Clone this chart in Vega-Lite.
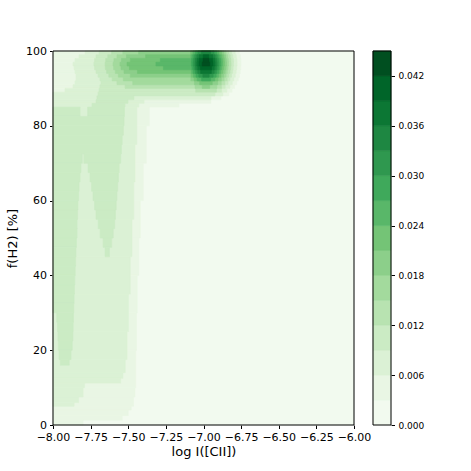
{
"$schema": "https://vega.github.io/schema/vega-lite/v6.json",
"background": "white",
"padding": {"left": 6, "top": 45, "right": 5, "bottom": 5},
"bounds": "flush",
"spacing": 19,
"config": {
  "font": "DejaVu Sans",
  "view": {"stroke": null},
  "axis": {"labelFont": "DejaVu Sans", "titleFont": "DejaVu Sans", "labelColor": "black", "titleColor": "black", "tickColor": "black", "domain": false, "grid": false, "labelFontSize": 11, "titleFontSize": 13, "titleFontWeight": "normal", "tickSize": 3.5, "labelPadding": 3, "zindex": 1}
},
"hconcat": [
{
  "width": 301, "height": 374,
  "layer": [
  {
    "data": {"values": [
{"x":-8,"x2":-6,"y":0,"y2":100,"l":0},
{"x":-8,"x2":-6.761,"y":99,"y2":100,"l":1},
{"x":-8,"x2":-6.755,"y":98,"y2":99,"l":1},
{"x":-8,"x2":-6.752,"y":97,"y2":98,"l":1},
{"x":-8,"x2":-6.751,"y":96,"y2":97,"l":1},
{"x":-8,"x2":-6.753,"y":95,"y2":96,"l":1},
{"x":-8,"x2":-6.756,"y":94,"y2":95,"l":1},
{"x":-8,"x2":-6.761,"y":93,"y2":94,"l":1},
{"x":-8,"x2":-6.769,"y":92,"y2":93,"l":1},
{"x":-8,"x2":-6.780,"y":91,"y2":92,"l":1},
{"x":-8,"x2":-6.793,"y":90,"y2":91,"l":1},
{"x":-8,"x2":-6.810,"y":89,"y2":90,"l":1},
{"x":-8,"x2":-6.831,"y":88,"y2":89,"l":1},
{"x":-8,"x2":-6.884,"y":87,"y2":88,"l":1},
{"x":-8,"x2":-6.950,"y":86,"y2":87,"l":1},
{"x":-8,"x2":-7.163,"y":85,"y2":86,"l":1},
{"x":-8,"x2":-7.36,"y":80,"y2":85,"l":1},
{"x":-8,"x2":-7.38,"y":70,"y2":80,"l":1},
{"x":-8,"x2":-7.40,"y":60,"y2":70,"l":1},
{"x":-8,"x2":-7.42,"y":50,"y2":60,"l":1},
{"x":-8,"x2":-7.43,"y":40,"y2":50,"l":1},
{"x":-8,"x2":-7.44,"y":30,"y2":40,"l":1},
{"x":-8,"x2":-7.445,"y":20,"y2":30,"l":1},
{"x":-8,"x2":-7.45,"y":10,"y2":20,"l":1},
{"x":-8,"x2":-7.455,"y":7.5,"y2":10,"l":1},
{"x":-8,"x2":-7.465,"y":5,"y2":7.5,"l":1},
{"x":-8,"x2":-7.48,"y":4,"y2":5,"l":1},
{"x":-8,"x2":-7.50,"y":2.5,"y2":4,"l":1},
{"x":-8,"x2":-7.54,"y":1.3,"y2":2.5,"l":1},
{"x":-8,"x2":-7.80,"y":0,"y2":1.3,"l":1},
{"x":-7.787,"x2":-6.789,"y":99,"y2":100,"l":2},
{"x":-7.827,"x2":-6.782,"y":98,"y2":99,"l":2},
{"x":-7.854,"x2":-6.778,"y":97,"y2":98,"l":2},
{"x":-7.867,"x2":-6.777,"y":96,"y2":97,"l":2},
{"x":-7.860,"x2":-6.779,"y":95,"y2":96,"l":2},
{"x":-7.854,"x2":-6.783,"y":94,"y2":95,"l":2},
{"x":-7.847,"x2":-6.789,"y":93,"y2":94,"l":2},
{"x":-7.847,"x2":-6.798,"y":92,"y2":93,"l":2},
{"x":-7.854,"x2":-6.809,"y":91,"y2":92,"l":2},
{"x":-7.867,"x2":-6.825,"y":90,"y2":91,"l":2},
{"x":-7.920,"x2":-6.845,"y":89,"y2":90,"l":2},
{"x":-8,"x2":-6.871,"y":88,"y2":89,"l":2},
{"x":-8,"x2":-6.950,"y":87,"y2":88,"l":2},
{"x":-8,"x2":-7.395,"y":86,"y2":87,"l":2},
{"x":-8,"x2":-7.429,"y":85,"y2":86,"l":2},
{"x":-8,"x2":-7.443,"y":75,"y2":85,"l":2},
{"x":-8,"x2":-7.455,"y":65,"y2":75,"l":2},
{"x":-8,"x2":-7.463,"y":55,"y2":65,"l":2},
{"x":-8,"x2":-7.475,"y":45,"y2":55,"l":2},
{"x":-8,"x2":-7.487,"y":35,"y2":45,"l":2},
{"x":-8,"x2":-7.498,"y":25,"y2":35,"l":2},
{"x":-8,"x2":-7.508,"y":17.5,"y2":25,"l":2},
{"x":-8,"x2":-7.52,"y":14,"y2":17.5,"l":2},
{"x":-8,"x2":-7.535,"y":12.5,"y2":14,"l":2},
{"x":-8,"x2":-7.55,"y":11.2,"y2":12.5,"l":2},
{"x":-8,"x2":-7.79,"y":10,"y2":11.2,"l":2},
{"x":-8,"x2":-7.80,"y":7.5,"y2":10,"l":2},
{"x":-8,"x2":-7.83,"y":6,"y2":7.5,"l":2},
{"x":-8,"x2":-7.86,"y":5,"y2":6,"l":2},
{"x":-7.694,"x2":-6.813,"y":99,"y2":100,"l":3},
{"x":-7.714,"x2":-6.806,"y":98,"y2":99,"l":3},
{"x":-7.724,"x2":-6.801,"y":97,"y2":98,"l":3},
{"x":-7.728,"x2":-6.801,"y":96,"y2":97,"l":3},
{"x":-7.724,"x2":-6.803,"y":95,"y2":96,"l":3},
{"x":-7.714,"x2":-6.807,"y":94,"y2":95,"l":3},
{"x":-7.701,"x2":-6.814,"y":93,"y2":94,"l":3},
{"x":-7.688,"x2":-6.824,"y":92,"y2":93,"l":3},
{"x":-7.681,"x2":-6.837,"y":91,"y2":92,"l":3},
{"x":-7.688,"x2":-6.856,"y":90,"y2":91,"l":3},
{"x":-7.694,"x2":-6.880,"y":89,"y2":90,"l":3},
{"x":-7.701,"x2":-6.924,"y":88,"y2":89,"l":3},
{"x":-7.708,"x2":-7.462,"y":87,"y2":88,"l":3},
{"x":-7.714,"x2":-7.502,"y":86,"y2":87,"l":3},
{"x":-7.741,"x2":-7.522,"y":85,"y2":86,"l":3},
{"x":-8,"x2":-7.82,"y":82.5,"y2":85,"l":3},
{"x":-7.77,"x2":-7.525,"y":82.5,"y2":85,"l":3},
{"x":-8,"x2":-7.528,"y":80,"y2":82.5,"l":3},
{"x":-8,"x2":-7.532,"y":77.5,"y2":80,"l":3},
{"x":-8,"x2":-7.54,"y":75,"y2":77.5,"l":3},
{"x":-8,"x2":-7.545,"y":72.5,"y2":75,"l":3},
{"x":-8,"x2":-7.805,"y":70,"y2":72.5,"l":3},
{"x":-7.795,"x2":-7.55,"y":70,"y2":72.5,"l":3},
{"x":-8,"x2":-7.814,"y":67.5,"y2":70,"l":3},
{"x":-7.767,"x2":-7.56,"y":67.5,"y2":70,"l":3},
{"x":-8,"x2":-7.82,"y":65,"y2":67.5,"l":3},
{"x":-7.754,"x2":-7.565,"y":65,"y2":67.5,"l":3},
{"x":-8,"x2":-7.827,"y":62.5,"y2":65,"l":3},
{"x":-7.744,"x2":-7.57,"y":62.5,"y2":65,"l":3},
{"x":-8,"x2":-7.83,"y":60,"y2":62.5,"l":3},
{"x":-7.734,"x2":-7.575,"y":60,"y2":62.5,"l":3},
{"x":-8,"x2":-7.834,"y":57.5,"y2":60,"l":3},
{"x":-7.724,"x2":-7.58,"y":57.5,"y2":60,"l":3},
{"x":-8,"x2":-7.837,"y":55,"y2":57.5,"l":3},
{"x":-7.714,"x2":-7.585,"y":55,"y2":57.5,"l":3},
{"x":-8,"x2":-7.84,"y":52.5,"y2":55,"l":3},
{"x":-7.70,"x2":-7.59,"y":52.5,"y2":55,"l":3},
{"x":-8,"x2":-7.84,"y":50,"y2":52.5,"l":3},
{"x":-7.687,"x2":-7.60,"y":50,"y2":52.5,"l":3},
{"x":-8,"x2":-7.844,"y":47.5,"y2":50,"l":3},
{"x":-7.667,"x2":-7.61,"y":47.5,"y2":50,"l":3},
{"x":-8,"x2":-7.847,"y":45,"y2":47.5,"l":3},
{"x":-7.654,"x2":-7.625,"y":45,"y2":47.5,"l":3},
{"x":-8,"x2":-7.85,"y":42.5,"y2":45,"l":3},
{"x":-8,"x2":-7.852,"y":40,"y2":42.5,"l":3},
{"x":-8,"x2":-7.855,"y":37.5,"y2":40,"l":3},
{"x":-8,"x2":-7.857,"y":35,"y2":37.5,"l":3},
{"x":-8,"x2":-7.86,"y":32.5,"y2":35,"l":3},
{"x":-8,"x2":-7.862,"y":30,"y2":32.5,"l":3},
{"x":-7.975,"x2":-7.864,"y":27.5,"y2":30,"l":3},
{"x":-7.97,"x2":-7.866,"y":25,"y2":27.5,"l":3},
{"x":-7.967,"x2":-7.868,"y":22.5,"y2":25,"l":3},
{"x":-7.965,"x2":-7.872,"y":20,"y2":22.5,"l":3},
{"x":-7.96,"x2":-7.88,"y":17.5,"y2":20,"l":3},
{"x":-7.952,"x2":-7.892,"y":16,"y2":17.5,"l":3},
{"x":-7.611,"x2":-6.831,"y":99,"y2":100,"l":4},
{"x":-7.636,"x2":-6.823,"y":98,"y2":99,"l":4},
{"x":-7.650,"x2":-6.818,"y":97,"y2":98,"l":4},
{"x":-7.654,"x2":-6.817,"y":96,"y2":97,"l":4},
{"x":-7.652,"x2":-6.819,"y":95,"y2":96,"l":4},
{"x":-7.644,"x2":-6.824,"y":94,"y2":95,"l":4},
{"x":-7.629,"x2":-6.832,"y":93,"y2":94,"l":4},
{"x":-7.607,"x2":-6.843,"y":92,"y2":93,"l":4},
{"x":-7.575,"x2":-6.858,"y":91,"y2":92,"l":4},
{"x":-7.521,"x2":-6.881,"y":90,"y2":91,"l":4},
{"x":-7.052,"x2":-6.914,"y":89,"y2":90,"l":4},
{"x":-7.536,"x2":-6.850,"y":99,"y2":100,"l":5},
{"x":-7.575,"x2":-6.840,"y":98,"y2":99,"l":5},
{"x":-7.595,"x2":-6.835,"y":97,"y2":98,"l":5},
{"x":-7.601,"x2":-6.834,"y":96,"y2":97,"l":5},
{"x":-7.597,"x2":-6.837,"y":95,"y2":96,"l":5},
{"x":-7.586,"x2":-6.842,"y":94,"y2":95,"l":5},
{"x":-7.566,"x2":-6.850,"y":93,"y2":94,"l":5},
{"x":-7.533,"x2":-6.863,"y":92,"y2":93,"l":5},
{"x":-7.470,"x2":-6.882,"y":91,"y2":92,"l":5},
{"x":-7.056,"x2":-6.911,"y":90,"y2":91,"l":5},
{"x":-7.431,"x2":-6.865,"y":99,"y2":100,"l":6},
{"x":-7.512,"x2":-6.854,"y":98,"y2":99,"l":6},
{"x":-7.545,"x2":-6.849,"y":97,"y2":98,"l":6},
{"x":-7.555,"x2":-6.847,"y":96,"y2":97,"l":6},
{"x":-7.548,"x2":-6.850,"y":95,"y2":96,"l":6},
{"x":-7.528,"x2":-6.856,"y":94,"y2":95,"l":6},
{"x":-7.486,"x2":-6.866,"y":93,"y2":94,"l":6},
{"x":-7.084,"x2":-6.882,"y":92,"y2":93,"l":6},
{"x":-7.060,"x2":-6.906,"y":91,"y2":92,"l":6},
{"x":-7.008,"x2":-6.959,"y":90,"y2":91,"l":6},
{"x":-7.086,"x2":-6.880,"y":99,"y2":100,"l":7},
{"x":-7.385,"x2":-6.868,"y":98,"y2":99,"l":7},
{"x":-7.486,"x2":-6.862,"y":97,"y2":98,"l":7},
{"x":-7.508,"x2":-6.861,"y":96,"y2":97,"l":7},
{"x":-7.492,"x2":-6.864,"y":95,"y2":96,"l":7},
{"x":-7.439,"x2":-6.871,"y":94,"y2":95,"l":7},
{"x":-7.083,"x2":-6.884,"y":93,"y2":94,"l":7},
{"x":-7.062,"x2":-6.904,"y":92,"y2":93,"l":7},
{"x":-7.025,"x2":-6.942,"y":91,"y2":92,"l":7},
{"x":-7.070,"x2":-6.897,"y":99,"y2":100,"l":8},
{"x":-7.084,"x2":-6.882,"y":98,"y2":99,"l":8},
{"x":-7.287,"x2":-6.875,"y":97,"y2":98,"l":8},
{"x":-7.316,"x2":-6.874,"y":96,"y2":97,"l":8},
{"x":-7.266,"x2":-6.878,"y":95,"y2":96,"l":8},
{"x":-7.081,"x2":-6.886,"y":94,"y2":95,"l":8},
{"x":-7.067,"x2":-6.900,"y":93,"y2":94,"l":8},
{"x":-7.042,"x2":-6.925,"y":92,"y2":93,"l":8},
{"x":-7.054,"x2":-6.912,"y":99,"y2":100,"l":9},
{"x":-7.071,"x2":-6.896,"y":98,"y2":99,"l":9},
{"x":-7.080,"x2":-6.887,"y":97,"y2":98,"l":9},
{"x":-7.081,"x2":-6.886,"y":96,"y2":97,"l":9},
{"x":-7.077,"x2":-6.890,"y":95,"y2":96,"l":9},
{"x":-7.068,"x2":-6.899,"y":94,"y2":95,"l":9},
{"x":-7.050,"x2":-6.916,"y":93,"y2":94,"l":9},
{"x":-7.013,"x2":-6.953,"y":92,"y2":93,"l":9},
{"x":-7.037,"x2":-6.930,"y":99,"y2":100,"l":10},
{"x":-7.058,"x2":-6.909,"y":98,"y2":99,"l":10},
{"x":-7.067,"x2":-6.900,"y":97,"y2":98,"l":10},
{"x":-7.069,"x2":-6.898,"y":96,"y2":97,"l":10},
{"x":-7.064,"x2":-6.902,"y":95,"y2":96,"l":10},
{"x":-7.053,"x2":-6.914,"y":94,"y2":95,"l":10},
{"x":-7.031,"x2":-6.936,"y":93,"y2":94,"l":10},
{"x":-7.014,"x2":-6.953,"y":99,"y2":100,"l":11},
{"x":-7.044,"x2":-6.923,"y":98,"y2":99,"l":11},
{"x":-7.055,"x2":-6.912,"y":97,"y2":98,"l":11},
{"x":-7.056,"x2":-6.910,"y":96,"y2":97,"l":11},
{"x":-7.052,"x2":-6.915,"y":95,"y2":96,"l":11},
{"x":-7.038,"x2":-6.929,"y":94,"y2":95,"l":11},
{"x":-7.004,"x2":-6.963,"y":93,"y2":94,"l":11},
{"x":-7.028,"x2":-6.939,"y":98,"y2":99,"l":12},
{"x":-7.042,"x2":-6.925,"y":97,"y2":98,"l":12},
{"x":-7.044,"x2":-6.923,"y":96,"y2":97,"l":12},
{"x":-7.038,"x2":-6.929,"y":95,"y2":96,"l":12},
{"x":-7.019,"x2":-6.948,"y":94,"y2":95,"l":12},
{"x":-7.002,"x2":-6.965,"y":98,"y2":99,"l":13},
{"x":-7.027,"x2":-6.940,"y":97,"y2":98,"l":13},
{"x":-7.030,"x2":-6.937,"y":96,"y2":97,"l":13},
{"x":-7.020,"x2":-6.947,"y":95,"y2":96,"l":13},
{"x":-7.003,"x2":-6.964,"y":97,"y2":98,"l":14},
{"x":-7.009,"x2":-6.958,"y":96,"y2":97,"l":14}
    ]},
    "mark": {"type": "rect", "strokeWidth": 0.6},
    "encoding": {
      "x": {"field": "x", "type": "quantitative", "scale": {"domain": [-8, -6], "nice": false, "zero": false},
            "axis": {"title": "log I([CII])", "values": [-8, -7.75, -7.5, -7.25, -7, -6.75, -6.5, -6.25, -6], "tickCount": 20, "format": ".2f", "labelFlush": false, "labelOverlap": false, "titlePadding": 3}},
      "x2": {"field": "x2"},
      "y": {"field": "y", "type": "quantitative", "scale": {"domain": [0, 100], "nice": false, "zero": false},
            "axis": {"title": "f(H2) [%]", "values": [0, 20, 40, 60, 80, 100], "tickCount": 20, "labelFlush": false, "labelOverlap": false, "titlePadding": 6}},
      "y2": {"field": "y2"},
      "fill": {"field": "l", "type": "ordinal", "legend": null,
               "scale": {"domain": [0,1,2,3,4,5,6,7,8,9,10,11,12,13,14], "range": ["#f2faef","#e9f6e4","#dbf1d5","#cbebc4","#b8e3b1","#a3da9d","#8ccf8a","#74c476","#59b769","#3fa95b","#2f984f","#1e8742","#0c7734","#006529","#004f20"]}},
      "stroke": {"field": "l", "type": "ordinal", "legend": null,
               "scale": {"domain": [0,1,2,3,4,5,6,7,8,9,10,11,12,13,14], "range": ["#f2faef","#e9f6e4","#dbf1d5","#cbebc4","#b8e3b1","#a3da9d","#8ccf8a","#74c476","#59b769","#3fa95b","#2f984f","#1e8742","#0c7734","#006529","#004f20"]}},
      "order": {"field": "l", "type": "quantitative"}
    }
  },
  {
    "data": {"values": [{"x": -8, "x2": -6, "y": 0, "y2": 100}]},
    "mark": {"type": "rect", "filled": false, "stroke": "black", "strokeWidth": 1},
    "encoding": {
      "x": {"field": "x", "type": "quantitative"},
      "x2": {"field": "x2"},
      "y": {"field": "y", "type": "quantitative"},
      "y2": {"field": "y2"}
    }
  }
  ]
},
{
  "width": 18, "height": 374,
  "layer": [
  {
    "data": {"values": [
{"lo":0,"hi":0.003,"l":0},{"lo":0.003,"hi":0.006,"l":1},{"lo":0.006,"hi":0.009,"l":2},{"lo":0.009,"hi":0.012,"l":3},
{"lo":0.012,"hi":0.015,"l":4},{"lo":0.015,"hi":0.018,"l":5},{"lo":0.018,"hi":0.021,"l":6},{"lo":0.021,"hi":0.024,"l":7},
{"lo":0.024,"hi":0.027,"l":8},{"lo":0.027,"hi":0.030,"l":9},{"lo":0.030,"hi":0.033,"l":10},{"lo":0.033,"hi":0.036,"l":11},
{"lo":0.036,"hi":0.039,"l":12},{"lo":0.039,"hi":0.042,"l":13},{"lo":0.042,"hi":0.045,"l":14}
    ]},
    "mark": {"type": "rect", "strokeWidth": 0.6},
    "encoding": {
      "x": {"datum": 0, "type": "quantitative", "scale": {"domain": [0, 1]}, "axis": null},
      "x2": {"datum": 1},
      "y": {"field": "lo", "type": "quantitative", "scale": {"domain": [0, 0.045], "nice": false, "zero": false},
            "axis": {"orient": "right", "title": null, "values": [0, 0.006, 0.012, 0.018, 0.024, 0.030, 0.036, 0.042], "tickCount": 20, "format": ".3f", "labelFontSize": 9, "labelPadding": 3.5, "labelFlush": false}},
      "y2": {"field": "hi"},
      "fill": {"field": "l", "type": "ordinal", "legend": null,
               "scale": {"domain": [0,1,2,3,4,5,6,7,8,9,10,11,12,13,14], "range": ["#f2faef","#e9f6e4","#dbf1d5","#cbebc4","#b8e3b1","#a3da9d","#8ccf8a","#74c476","#59b769","#3fa95b","#2f984f","#1e8742","#0c7734","#006529","#004f20"]}},
      "stroke": {"field": "l", "type": "ordinal", "legend": null,
               "scale": {"domain": [0,1,2,3,4,5,6,7,8,9,10,11,12,13,14], "range": ["#f2faef","#e9f6e4","#dbf1d5","#cbebc4","#b8e3b1","#a3da9d","#8ccf8a","#74c476","#59b769","#3fa95b","#2f984f","#1e8742","#0c7734","#006529","#004f20"]}}
    }
  },
  {
    "data": {"values": [{"lo": 0, "hi": 0.045}]},
    "mark": {"type": "rect", "filled": false, "stroke": "black", "strokeWidth": 1},
    "encoding": {
      "x": {"datum": 0, "type": "quantitative"},
      "x2": {"datum": 1},
      "y": {"field": "lo", "type": "quantitative"},
      "y2": {"field": "hi"}
    }
  }
  ]
}
]
}
